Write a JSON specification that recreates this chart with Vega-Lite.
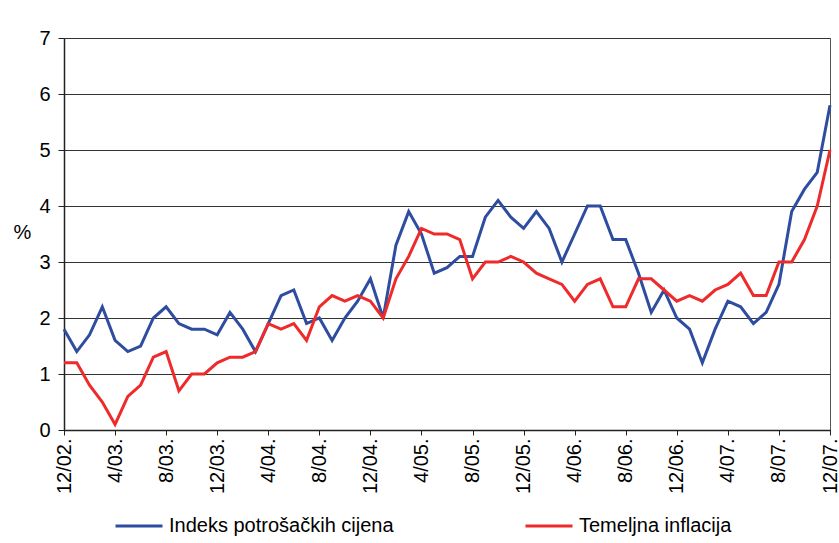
{
  "$schema": "https://vega.github.io/schema/vega-lite/v6.json",
  "autosize": {"type": "none"},
  "width": 766,
  "height": 392,
  "padding": {"left": 64, "top": 38, "right": 9, "bottom": 113},
  "background": "white",
  "config": {
    "font": "Liberation Sans",
    "view": {"stroke": "#555555", "strokeWidth": 1},
    "axis": {"labelFont": "Liberation Sans", "titleFont": "Liberation Sans", "labelColor": "black", "titleColor": "black", "domainColor": "#222222", "tickColor": "#222222"}
  },
  "data": {"values": [
    {"m": "12/02.", "cpi": 1.8, "core": 1.2},
    {"m": "1/03.", "cpi": 1.4, "core": 1.2},
    {"m": "2/03.", "cpi": 1.7, "core": 0.8},
    {"m": "3/03.", "cpi": 2.2, "core": 0.5},
    {"m": "4/03.", "cpi": 1.6, "core": 0.1},
    {"m": "5/03.", "cpi": 1.4, "core": 0.6},
    {"m": "6/03.", "cpi": 1.5, "core": 0.8},
    {"m": "7/03.", "cpi": 2.0, "core": 1.3},
    {"m": "8/03.", "cpi": 2.2, "core": 1.4},
    {"m": "9/03.", "cpi": 1.9, "core": 0.7},
    {"m": "10/03.", "cpi": 1.8, "core": 1.0},
    {"m": "11/03.", "cpi": 1.8, "core": 1.0},
    {"m": "12/03.", "cpi": 1.7, "core": 1.2},
    {"m": "1/04.", "cpi": 2.1, "core": 1.3},
    {"m": "2/04.", "cpi": 1.8, "core": 1.3},
    {"m": "3/04.", "cpi": 1.4, "core": 1.4},
    {"m": "4/04.", "cpi": 1.9, "core": 1.9},
    {"m": "5/04.", "cpi": 2.4, "core": 1.8},
    {"m": "6/04.", "cpi": 2.5, "core": 1.9},
    {"m": "7/04.", "cpi": 1.9, "core": 1.6},
    {"m": "8/04.", "cpi": 2.0, "core": 2.2},
    {"m": "9/04.", "cpi": 1.6, "core": 2.4},
    {"m": "10/04.", "cpi": 2.0, "core": 2.3},
    {"m": "11/04.", "cpi": 2.3, "core": 2.4},
    {"m": "12/04.", "cpi": 2.7, "core": 2.3},
    {"m": "1/05.", "cpi": 2.0, "core": 2.0},
    {"m": "2/05.", "cpi": 3.3, "core": 2.7},
    {"m": "3/05.", "cpi": 3.9, "core": 3.1},
    {"m": "4/05.", "cpi": 3.5, "core": 3.6},
    {"m": "5/05.", "cpi": 2.8, "core": 3.5},
    {"m": "6/05.", "cpi": 2.9, "core": 3.5},
    {"m": "7/05.", "cpi": 3.1, "core": 3.4},
    {"m": "8/05.", "cpi": 3.1, "core": 2.7},
    {"m": "9/05.", "cpi": 3.8, "core": 3.0},
    {"m": "10/05.", "cpi": 4.1, "core": 3.0},
    {"m": "11/05.", "cpi": 3.8, "core": 3.1},
    {"m": "12/05.", "cpi": 3.6, "core": 3.0},
    {"m": "1/06.", "cpi": 3.9, "core": 2.8},
    {"m": "2/06.", "cpi": 3.6, "core": 2.7},
    {"m": "3/06.", "cpi": 3.0, "core": 2.6},
    {"m": "4/06.", "cpi": 3.5, "core": 2.3},
    {"m": "5/06.", "cpi": 4.0, "core": 2.6},
    {"m": "6/06.", "cpi": 4.0, "core": 2.7},
    {"m": "7/06.", "cpi": 3.4, "core": 2.2},
    {"m": "8/06.", "cpi": 3.4, "core": 2.2},
    {"m": "9/06.", "cpi": 2.8, "core": 2.7},
    {"m": "10/06.", "cpi": 2.1, "core": 2.7},
    {"m": "11/06.", "cpi": 2.5, "core": 2.5},
    {"m": "12/06.", "cpi": 2.0, "core": 2.3},
    {"m": "1/07.", "cpi": 1.8, "core": 2.4},
    {"m": "2/07.", "cpi": 1.2, "core": 2.3},
    {"m": "3/07.", "cpi": 1.8, "core": 2.5},
    {"m": "4/07.", "cpi": 2.3, "core": 2.6},
    {"m": "5/07.", "cpi": 2.2, "core": 2.8},
    {"m": "6/07.", "cpi": 1.9, "core": 2.4},
    {"m": "7/07.", "cpi": 2.1, "core": 2.4},
    {"m": "8/07.", "cpi": 2.6, "core": 3.0},
    {"m": "9/07.", "cpi": 3.9, "core": 3.0},
    {"m": "10/07.", "cpi": 4.3, "core": 3.4},
    {"m": "11/07.", "cpi": 4.6, "core": 4.0},
    {"m": "12/07.", "cpi": 5.8, "core": 5.0}
  ]},
  "transform": [
    {"fold": ["cpi", "core"], "as": ["key", "value"]},
    {"calculate": "datum.key === 'cpi' ? 'Indeks potrošačkih cijena' : 'Temeljna inflacija'", "as": "series"}
  ],
  "mark": {"type": "line", "strokeWidth": 3, "strokeJoin": "miter"},
  "encoding": {
    "x": {
      "field": "m", "type": "ordinal", "sort": null,
      "scale": {"type": "point", "padding": 0},
      "axis": {
        "title": null,
        "values": ["12/02.", "4/03.", "8/03.", "12/03.", "4/04.", "8/04.", "12/04.", "4/05.", "8/05.", "12/05.", "4/06.", "8/06.", "12/06.", "4/07.", "8/07.", "12/07."],
        "labelAngle": 270, "labelFontSize": 20, "labelPadding": 3, "tickSize": 5,
        "domainWidth": 1.5, "grid": false, "labelOverlap": false
      }
    },
    "y": {
      "field": "value", "type": "quantitative",
      "scale": {"domain": [0, 7], "nice": false},
      "axis": {
        "title": "%", "titleAngle": 0, "titleFontSize": 20, "titleFontWeight": "normal",
        "titleX": -42, "titleY": 194, "titleAlign": "center", "titleBaseline": "middle",
        "values": [0, 1, 2, 3, 4, 5, 6, 7], "labelFontSize": 20, "labelPadding": 8, "tickSize": 6,
        "grid": true, "gridColor": "#333333", "gridWidth": 1, "domainWidth": 1.5
      }
    },
    "color": {
      "field": "series", "type": "nominal",
      "scale": {"domain": ["Indeks potrošačkih cijena", "Temeljna inflacija"], "range": ["#2E4DA0", "#EE2A2A"]},
      "legend": {
        "title": null, "orient": "none", "legendX": 50, "legendY": 463, "direction": "horizontal",
        "columns": 2, "columnPadding": 125, "symbolType": "stroke", "symbolSize": 2209,
        "symbolStrokeWidth": 3, "labelFontSize": 20, "labelOffset": 5, "labelLimit": 400,
        "labelColor": "black", "padding": 0
      }
    }
  }
}
